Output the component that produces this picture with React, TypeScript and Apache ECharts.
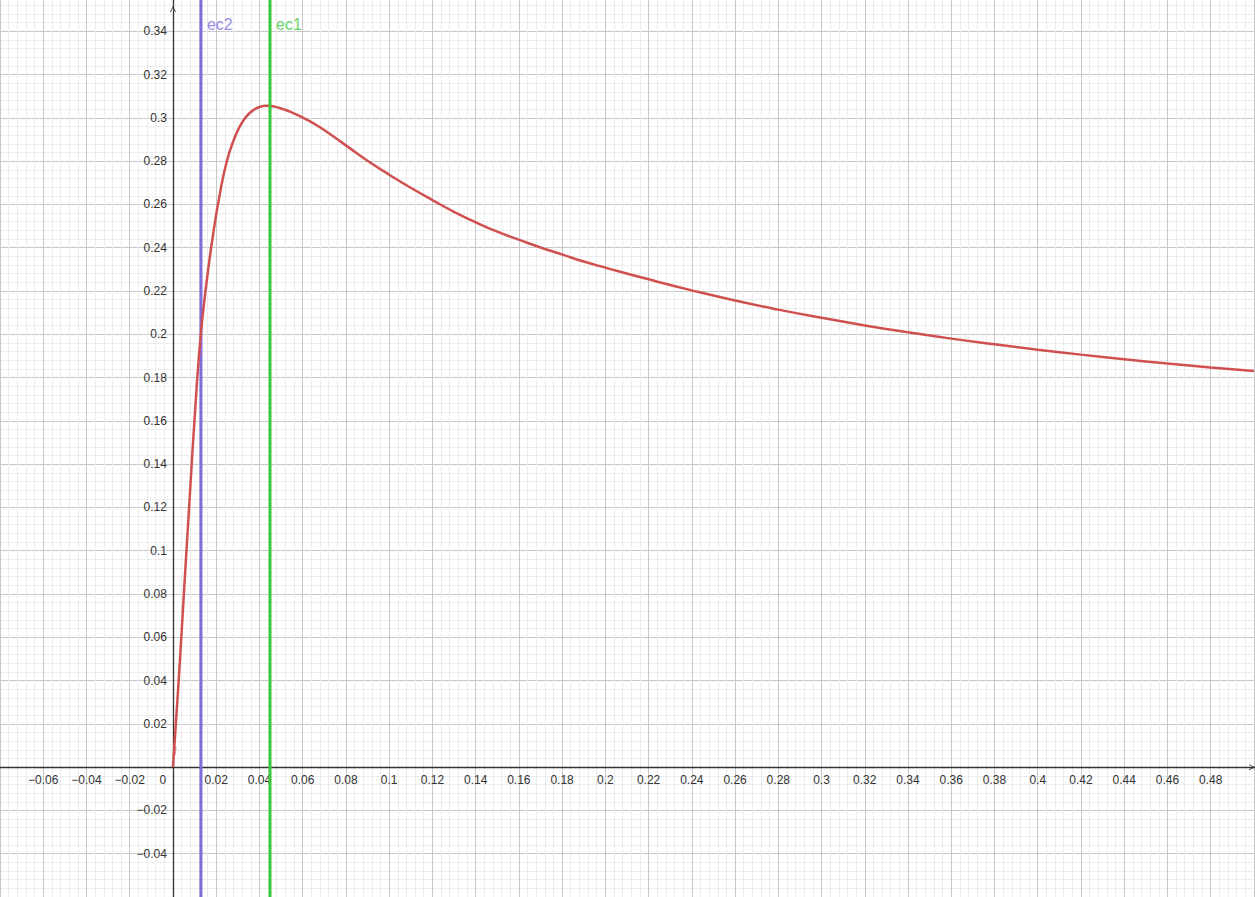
import React, { useEffect, useRef } from "react";
import * as echarts from "echarts";

// Curve f
const curveX = [0, 0.0024, 0.0049, 0.0077, 0.0102, 0.0128, 0.0156, 0.0187, 0.0217, 0.0248, 0.028, 0.031, 0.0341, 0.0371, 0.04, 0.0433, 0.047, 0.051, 0.055, 0.0587, 0.0665, 0.0741, 0.0819, 0.09, 0.1004, 0.11, 0.1204, 0.13, 0.1405, 0.15, 0.1605, 0.17, 0.1805, 0.19, 0.2, 0.22, 0.24, 0.26, 0.28, 0.3, 0.32, 0.34, 0.36, 0.38, 0.4, 0.42, 0.44, 0.46, 0.48, 0.5];
const curveY = [0, 0.036, 0.0776, 0.1238, 0.164, 0.199, 0.2245, 0.247, 0.265, 0.2795, 0.2895, 0.2962, 0.3008, 0.3035, 0.305, 0.3056, 0.3052, 0.304, 0.3025, 0.3008, 0.2966, 0.2915, 0.2859, 0.2802, 0.2735, 0.2677, 0.2618, 0.2566, 0.2515, 0.2474, 0.2435, 0.2401, 0.2367, 0.2336, 0.2308, 0.2254, 0.2203, 0.2156, 0.2114, 0.2076, 0.2041, 0.2009, 0.198, 0.1954, 0.1929, 0.1906, 0.1885, 0.1865, 0.1847, 0.183];

// Vertical lines
const lineNames = ["ec2", "ec1"];
const lineX = [0.01295, 0.0449];
const lineColors = ["#7d6edc", "#3cc83c"];

// Axis extents
const X_MIN = -0.08;
const X_MAX = 0.5005;
const Y_MIN = -0.06;
const Y_MAX = 0.36;
const TICK = 0.02;

const LABEL_Y = 0.3432;
const F_LABEL = [0.0004, 0.0075];

const ARROW = "path://M0,10 L5,0 L10,10 L8.6,10 L5,2.6 L1.4,10 Z";

function fmt(v: number): string {
  const r = Math.round(v * 100) / 100;
  const s = String(Number(r.toFixed(2)));
  return r < 0 ? "\u2212" + s.slice(1) : s;
}

function isMajor(v: number): boolean {
  return Math.abs(v / TICK - Math.round(v / TICK)) < 1e-6;
}

export default function App() {
  const ref = useRef<HTMLDivElement>(null);
  useEffect(() => {
    if (!ref.current) return;
    const chart = echarts.init(ref.current, null, { renderer: "svg" });
    const font = "'Liberation Sans', Arial, sans-serif";
    const GRID = { left: 0, right: 0, top: -12, bottom: 0 };
    const option: any = {
      animation: false,
      backgroundColor: "#ffffff",
      grid: { ...GRID, containLabel: false, outerBoundsMode: "none" },
      xAxis: {
        type: "value",
        min: X_MIN,
        max: X_MAX,
        interval: TICK,
        position: "bottom",
        axisLine: {
          onZero: false,
          symbol: ["none", ARROW],
          symbolSize: [9, 6],
          symbolOffset: [0, -3],
          lineStyle: { color: "#333", width: 1.3 },
        },
        axisTick: { show: false },
        axisLabel: {
          margin: 7,
          fontSize: 12,
          fontFamily: font,
          color: "#333",
          showMaxLabel: false,
          hideOverlap: false,
          formatter: (v: number) => {
            if (!isMajor(v) || v < -0.07 || v > 0.49) return "";
            if (Math.abs(v) < 1e-9) return "{z|0}";
            return fmt(v);
          },
          rich: {
            z: { padding: [0, 20, 0, 0], fontSize: 12, fontFamily: font, color: "#333" },
          },
        },
        splitLine: { show: true, lineStyle: { color: "#c8c8c8", width: 1 } },
        minorTick: { show: false, splitNumber: 5 },
        minorSplitLine: { show: true, lineStyle: { color: "#ececec", width: 1 } },
      },
      yAxis: {
        type: "value",
        min: Y_MIN,
        max: Y_MAX,
        interval: TICK,
        position: "left",
        axisLine: {
          onZero: false,
          symbol: ["none", ARROW],
          symbolSize: [9, 6],
          symbolOffset: [0, -21],
          lineStyle: { color: "#333", width: 1.3 },
        },
        axisTick: { show: false },
        axisLabel: {
          margin: 6,
          fontSize: 12,
          fontFamily: font,
          color: "#333",
          showMinLabel: false,
          showMaxLabel: false,
          hideOverlap: false,
          formatter: (v: number) => {
            if (!isMajor(v) || Math.abs(v) < 1e-9 || v < -0.05 || v > 0.35) return "";
            return fmt(v);
          },
        },
        splitLine: { show: true, lineStyle: { color: "#c8c8c8", width: 1 } },
        minorTick: { show: false, splitNumber: 5 },
        minorSplitLine: { show: true, lineStyle: { color: "#ececec", width: 1 } },
      },
      series: [
        {
          type: "line",
          name: lineNames[0],
          data: [[lineX[0], Y_MIN], [lineX[0], Y_MAX]],
          showSymbol: false,
          symbol: "none",
          lineStyle: { color: lineColors[0], width: 3 },
          z: 3,
        },
        {
          type: "line",
          name: "f",
          data: curveX.map((x, i) => [x, curveY[i]]),
          showSymbol: false,
          symbol: "none",
          smooth: 0.5,
          lineStyle: { color: "#d05050", width: 2.5 },
          z: 4,
        },
        {
          type: "line",
          name: lineNames[1],
          data: [[lineX[1], Y_MIN], [lineX[1], Y_MAX]],
          showSymbol: false,
          symbol: "none",
          lineStyle: { color: lineColors[1], width: 3 },
          z: 5,
        },
        {
          type: "scatter",
          symbolSize: 0,
          silent: true,
          z: 6,
          data: lineX.map((x, i) => ({
            value: [x, LABEL_Y],
            label: {
              show: true,
              position: "right",
              distance: 6,
              formatter: lineNames[i],
              color: lineColors[i],
              fontSize: 16,
              fontFamily: font,
            },
          })),
        },
        {
          type: "scatter",
          symbolSize: 0,
          silent: true,
          z: 6,
          data: [
            {
              value: F_LABEL,
              label: {
                show: true,
                position: "right",
                distance: 0,
                formatter: "f",
                color: "#d05050",
                fontSize: 11,
                fontFamily: font,
              },
            },
          ],
        },
      ],
    };
    chart.setOption(option);
    // Move the axes (line + labels) onto the zero lines of the other axis
    const x0 = chart.convertToPixel({ xAxisIndex: 0 }, 0) as number;
    const y0 = chart.convertToPixel({ yAxisIndex: 0 }, 0) as number;
    const h = chart.getHeight();
    chart.setOption({
      xAxis: { offset: -(h - GRID.bottom - y0) },
      yAxis: { offset: -(x0 - GRID.left) },
    });
    return () => chart.dispose();
  }, []);
  return (
    <div
      ref={ref}
      style={{ position: "absolute", left: 0, top: 0, width: 1255, height: 897 }}
    />
  );
}
